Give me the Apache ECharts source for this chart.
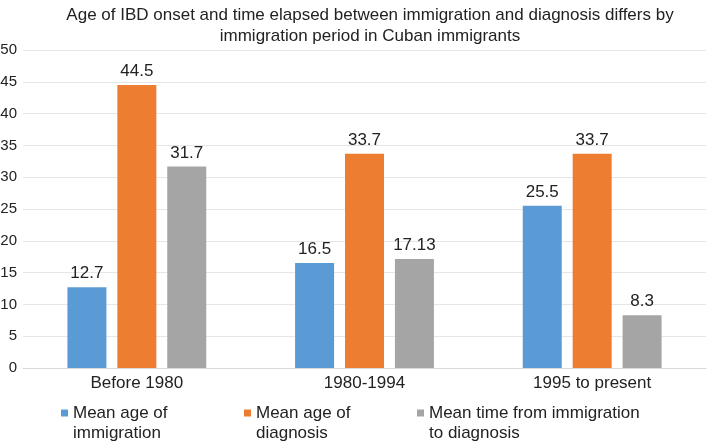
<!DOCTYPE html>
<html><head><meta charset="utf-8">
<script src="https://cdn.jsdelivr.net/npm/echarts@6/dist/echarts.min.js"></script>
<style>html,body{margin:0;padding:0;background:#fff}#c{width:709px;height:444px}</style>
</head><body><div id="c"></div>
<script>
var categories = ["Before 1980", "1980-1994", "1995 to present"];
var seriesNames = ["Mean age of immigration", "Mean age of diagnosis", "Mean time from immigration to diagnosis"];
var legendLabels = ["Mean age of\nimmigration", "Mean age of\ndiagnosis", "Mean time from immigration\nto diagnosis"];
var immigrationAge = [12.7, 16.5, 25.5];
var diagnosisAge = [44.5, 33.7, 33.7];
var timeToDiagnosis = [31.7, 17.13, 8.3];
var labelText = [["12.7","16.5","25.5"],["44.5","33.7","33.7"],["31.7","17.13","8.3"]];
var colors = ["#5B9BD5", "#ED7D31", "#A5A5A5"];
var values = [immigrationAge, diagnosisAge, timeToDiagnosis];
var font = "Liberation Sans, Arial, sans-serif";
var legendLeft = [56, 239, 412];

var chart = echarts.init(document.getElementById('c'));
chart.setOption({
  animation: false,
  title: {
    text: "Age of IBD onset and time elapsed between immigration and diagnosis differs by\nimmigration period in Cuban immigrants",
    left: 365, textAlign: 'center', top: 0,
    textStyle: {fontFamily: font, fontSize: 17, fontWeight: 'normal', color: '#222', lineHeight: 21}
  },
  grid: {left: 23, right: 3, top: 50, bottom: 76, containLabel: false, outerBoundsMode: 'none'},
  legend: seriesNames.map(function(n, i){
    return {
      data: [n], left: legendLeft[i], top: 378, itemWidth: 7, itemHeight: 7, icon: 'rect', itemGap: 4,
      formatter: function(){ return "\n" + legendLabels[i]; },
      textStyle: {fontFamily: font, fontSize: 17, color: '#222', lineHeight: 20}
    };
  }),
  xAxis: {
    type: 'category', data: categories,
    axisLine: {lineStyle: {color: '#d9d9d9'}}, axisTick: {show: false},
    axisLabel: {fontFamily: font, fontSize: 17, color: '#222', margin: 7}
  },
  yAxis: {
    type: 'value', min: 0, max: 50, interval: 5,
    axisLine: {show: false}, axisTick: {show: false},
    splitLine: {lineStyle: {color: '#e6e6e6'}},
    axisLabel: {fontFamily: font, fontSize: 15, color: '#222', margin: 6}
  },
  series: values.map(function(v, i){
    return {
      name: seriesNames[i], type: 'bar', data: v, barWidth: 39, barGap: '28%',
      itemStyle: {color: colors[i]},
      label: {show: true, position: 'top', distance: 5, fontFamily: font, fontSize: 17, color: '#222',
        formatter: function(p){ return labelText[i][p.dataIndex]; }}
    };
  })
});
</script></body></html>
